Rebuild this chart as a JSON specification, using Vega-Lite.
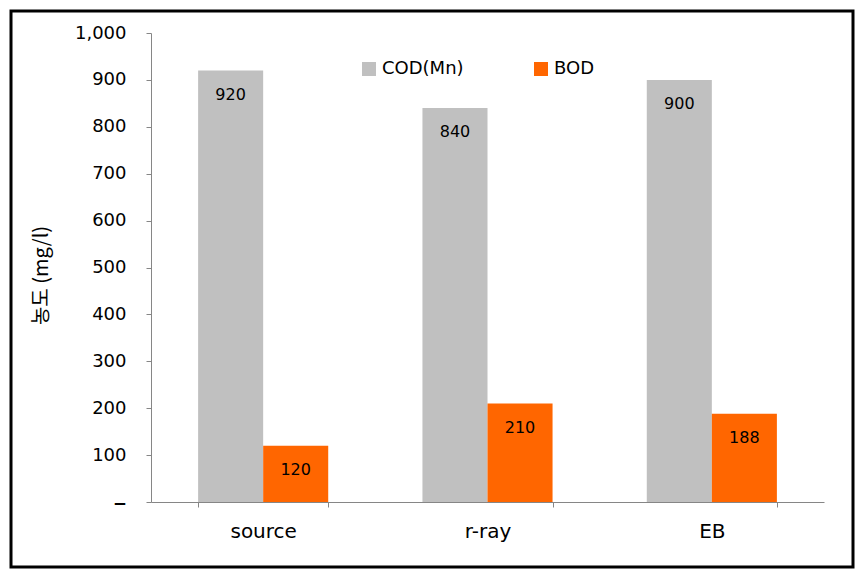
{
  "$schema": "https://vega.github.io/schema/vega-lite/v6.json",
  "width": 842,
  "height": 556,
  "autosize": {"type": "none"},
  "padding": {"left": 11, "top": 11, "right": 8, "bottom": 11},
  "background": "white",
  "config": {
    "view": {"stroke": "#000000", "strokeWidth": 3},
    "font": "DejaVu Sans"
  },
  "data": {
    "values": [
      {"sample": "source", "series": "COD(Mn)", "value": 920},
      {"sample": "source", "series": "BOD", "value": 120},
      {"sample": "r-ray", "series": "COD(Mn)", "value": 840},
      {"sample": "r-ray", "series": "BOD", "value": 210},
      {"sample": "EB", "series": "COD(Mn)", "value": 900},
      {"sample": "EB", "series": "BOD", "value": 188}
    ]
  },
  "encoding": {
    "x": {
      "field": "sample",
      "type": "nominal",
      "sort": ["source", "r-ray", "EB"],
      "scale": {"range": [140, 813], "paddingInner": 0.42, "paddingOuter": 0.21},
      "axis": {
        "title": null,
        "orient": "bottom",
        "offset": -65,
        "labelAngle": 0,
        "labelFontSize": 20,
        "labelColor": "#000000",
        "labelPadding": 14,
        "tickBand": "extent",
        "tickSize": 5,
        "tickColor": "#868686",
        "domainColor": "#868686",
        "grid": false
      }
    },
    "xOffset": {
      "field": "series",
      "type": "nominal",
      "sort": ["COD(Mn)", "BOD"],
      "scale": {"paddingInner": 0, "paddingOuter": 0}
    },
    "y": {
      "field": "value",
      "type": "quantitative",
      "scale": {"domain": [0, 1000], "range": [491, 22], "nice": false},
      "axis": {
        "title": "농도 (mg/l)",
        "titleFont": "Noto Sans CJK KR",
        "titleFontSize": 20,
        "titleFontWeight": "normal",
        "titleColor": "#000000",
        "titleX": -110,
        "titleY": 264,
        "titleBaseline": "middle",
        "titleAngle": -90,
        "offset": -140,
        "values": [0, 100, 200, 300, 400, 500, 600, 700, 800, 900, 1000],
        "labelExpr": "datum.value == 0 ? '–' : format(datum.value, ',')",
        "labelFontSize": {"condition": {"test": "datum.value == 0", "value": 26}, "value": 18},
        "labelColor": "#000000",
        "labelPadding": 20,
        "tickSize": 5,
        "tickColor": "#868686",
        "domainColor": "#868686",
        "grid": false
      }
    }
  },
  "layer": [
    {
      "mark": {"type": "bar", "strokeWidth": 0},
      "encoding": {
        "color": {
          "field": "series",
          "type": "nominal",
          "scale": {"domain": ["COD(Mn)", "BOD"], "range": ["#C0C0C0", "#FF6600"]},
          "legend": {
            "title": null,
            "orient": "none",
            "legendX": 349,
            "legendY": 49,
            "direction": "horizontal",
            "symbolType": "square",
            "symbolSize": 196,
            "symbolStrokeWidth": 0,
            "labelFontSize": 18,
            "labelColor": "#000000",
            "labelOffset": 4,
            "columnPadding": 68,
            "padding": 0
          }
        }
      }
    },
    {
      "mark": {"type": "text", "dy": 24, "baseline": "middle", "fontSize": 16, "color": "#000000"},
      "encoding": {"text": {"field": "value", "type": "quantitative"}}
    }
  ]
}
